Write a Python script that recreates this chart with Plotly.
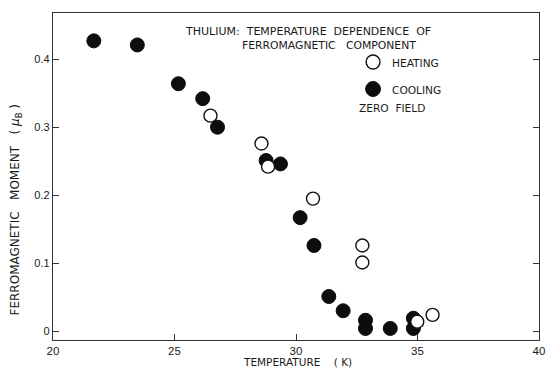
import plotly.graph_objects as go

# Cooling (filled circles)
cool_T = [21.68, 23.47, 25.16, 26.16, 26.77, 28.77, 29.36, 30.17, 30.74, 31.35, 31.94, 32.86, 32.86, 33.88, 34.83, 34.83]
cool_M = [0.427, 0.421, 0.364, 0.342, 0.300, 0.251, 0.246, 0.167, 0.126, 0.051, 0.030, 0.016, 0.004, 0.004, 0.019, 0.004]

# Heating (open circles)
heat_T = [26.48, 28.58, 28.85, 30.70, 32.73, 32.73, 34.99, 35.62]
heat_M = [0.317, 0.276, 0.242, 0.195, 0.126, 0.101, 0.014, 0.024]

x_ticks = [20, 25, 30, 35, 40]
x_ticklabels = ["20", "25", "30", "35", "40"]
y_ticks = [0, 0.1, 0.2, 0.3, 0.4]
y_ticklabels = ["0", "0.1", "0.2", "0.3", "0.4"]

FONT = "DejaVu Sans"
NUMFONT = "Liberation Sans"
INK = "#1a1a1a"

W, H = 548, 371
L, R, T, B = 53, 3, 13, 31
pw, ph = W - L - R, H - T - B

def px(xp):
    return (xp - L) / pw

def py(yp):
    return (H - B - yp) / ph

fig = go.Figure()
fig.add_trace(go.Scatter(
    x=cool_T, y=cool_M, mode="markers", name="COOLING", showlegend=False,
    marker=dict(symbol="circle", size=14, color="#0d0d0d", line=dict(color="#0d0d0d", width=1)),
))
fig.add_trace(go.Scatter(
    x=heat_T, y=heat_M, mode="markers", name="HEATING", showlegend=False,
    marker=dict(symbol="circle", size=13, color="white", line=dict(color="#111111", width=1.4)),
))

annotations = []
def txt(s, xp, yp, size=10.5, anchor="left", angle=0, family=FONT):
    annotations.append(dict(text=s, x=px(xp), y=py(yp), xref="paper", yref="paper",
                            xanchor=anchor, yanchor="middle", showarrow=False, textangle=angle,
                            font=dict(family=family, size=size, color=INK)))

txt("THULIUM:  TEMPERATURE  DEPENDENCE  OF", 185, 31.5, size=11)
txt("FERROMAGNETIC   COMPONENT", 242, 45, size=10.8)
txt("HEATING", 394, 63, size=10.6)
txt("COOLING", 394, 90, size=10.6)
txt("ZERO  FIELD", 361, 108, size=10.6)
txt("TEMPERATURE    ( K)", 301, 362, size=10.5, anchor="center")
txt("FERROMAGNETIC   MOMENT   ( <i>μ</i><sub>B</sub> )", 16, 210, size=12, anchor="center", angle=-90)

shapes = [
    dict(type="circle", xref="paper", yref="paper",
         x0=px(370), x1=px(384), y0=py(69), y1=py(55),
         line=dict(color="#111111", width=1.4), fillcolor="white"),
    dict(type="circle", xref="paper", yref="paper",
         x0=px(369.5), x1=px(384.5), y0=py(96.5), y1=py(81.5),
         line=dict(color="#0d0d0d", width=1), fillcolor="#0d0d0d"),
]

fig.update_layout(
    width=W, height=H,
    margin=dict(l=L, r=R, t=T, b=B, pad=0),
    paper_bgcolor="white", plot_bgcolor="white",
    font=dict(family=FONT, size=10, color=INK),
    annotations=annotations, shapes=shapes,
    xaxis=dict(
        range=[20, 40], tickvals=x_ticks, ticktext=x_ticklabels,
        ticks="inside", ticklen=6, tickwidth=1.2, tickcolor="#333",
        showline=True, linecolor="#333", linewidth=1.3, mirror=True,
        showgrid=False, zeroline=False, ticklabeloverflow="allow",
        tickfont=dict(family=NUMFONT, size=11.5, color=INK),
    ),
    yaxis=dict(
        range=[-0.013, 0.468], tickvals=y_ticks, ticktext=y_ticklabels,
        ticks="inside", ticklen=6, tickwidth=1.2, tickcolor="#333",
        showline=True, linecolor="#333", linewidth=1.3, mirror="ticks",
        showgrid=False, zeroline=False, ticklabeloverflow="allow",
        tickfont=dict(family=NUMFONT, size=11, color=INK),
    ),
)

fig.write_html("out.html", config={"displayModeBar": False},
               post_script="document.body.style.margin='0';document.body.style.padding='0';")
